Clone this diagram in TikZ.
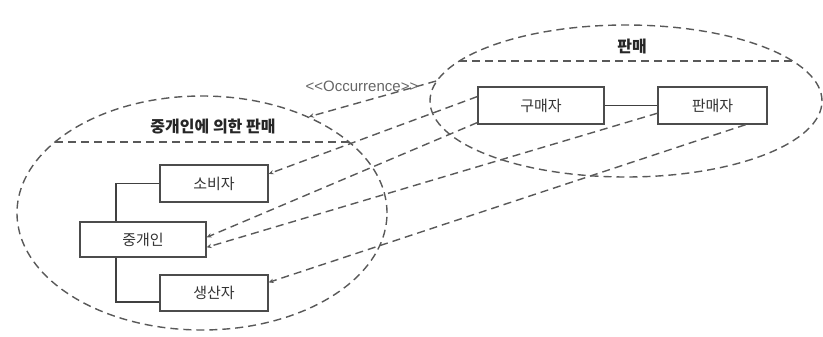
\documentclass[tikz,border=0pt]{standalone}
\usepackage{fontspec}
\setmainfont{Noto Sans CJK KR}
\newfontfamily\latinfont{Liberation Sans}
\usetikzlibrary{shapes.geometric,arrows.meta}

\tikzset{
  box/.style={draw=black!70,line width=1.3pt,fill=white,inner sep=0pt,text=black!80,font=\fontsize{15}{17}\selectfont},
  zone/.style={ellipse,draw=black!65,line width=1.4pt,dash pattern=on 8pt off 5pt,inner sep=0pt},
  rule/.style={draw=black!65,line width=1.4pt,dash pattern=on 8pt off 5pt},
  dep/.style={draw=black!65,line width=1.4pt,dash pattern=on 8pt off 5pt,-{Stealth[length=5pt,width=4.5pt]}},
  link/.style={draw=black!75,line width=1.3pt},
  title/.style={font=\fontsize{16}{18}\selectfont\bfseries,text=black!85}
}

\begin{document}
\begin{tikzpicture}[x=1pt,y=-1pt]
        % page is 823 x 337, y runs downwards
        \useasboundingbox[fill=white] (0,0) rectangle (823,337);

        % the two zones
        \node[zone,minimum width=370pt,minimum height=234pt] (brokerage) at (202,213) {};
        \node[zone,minimum width=392pt,minimum height=152pt] (sale) at (626,101) {};

        % header lines, ends on the ellipses (half widths 147 and 167)
        \coordinate (bL) at (55,142);
        \coordinate (bR) at (349,142);
        \coordinate (sL) at (459,61);
        \coordinate (sR) at (793,61);
        \draw[rule] (bL) -- (bR);
        \draw[rule] (sL) -- (sR);
        \node[title] (brokerageTitle) at (213,127) {중개인에 의한 판매};
        \node[title] (saleTitle) at (632,47) {판매};

        % boxes
        \node[box,minimum width=108pt,minimum height=37pt] (sobija) at (214,183.5) {소비자};
        \node[box,minimum width=126pt,minimum height=35pt] (junggae) at (143,239.5) {중개인};
        \node[box,minimum width=108pt,minimum height=36pt] (saengsan) at (214,293) {생산자};
        \node[box,minimum width=126pt,minimum height=37pt] (gumae) at (541,105.5) {구매자};
        \node[box,minimum width=109pt,minimum height=37pt] (panmae) at (712.5,105.5) {판매자};

        % solid links
        \draw[link] (sobija.west) -| ([xshift=-27pt]junggae.north);
        \draw[link] ([xshift=-27pt]junggae.south) |- ([yshift=-9pt]saengsan.west);
        \draw[link] (gumae.east) -- (panmae.west);

        % occurrence
        \draw[dep] (sale.174) -- (brokerage.42);
        \node[font=\latinfont\fontsize{15}{17}\selectfont,text=black!60] (occLabel) at (362,86) {<<Occurrence>>};

        % mappings
        \draw[dep] (gumae.172) -- (sobija.10);
        \draw[dep] (gumae.195) -- (junggae.2);
        \draw[dep] (panmae.188) -- (junggae.-7);
        \draw[dep] (panmae.-30) -- (saengsan.11);
    \end{tikzpicture}
\end{document}
